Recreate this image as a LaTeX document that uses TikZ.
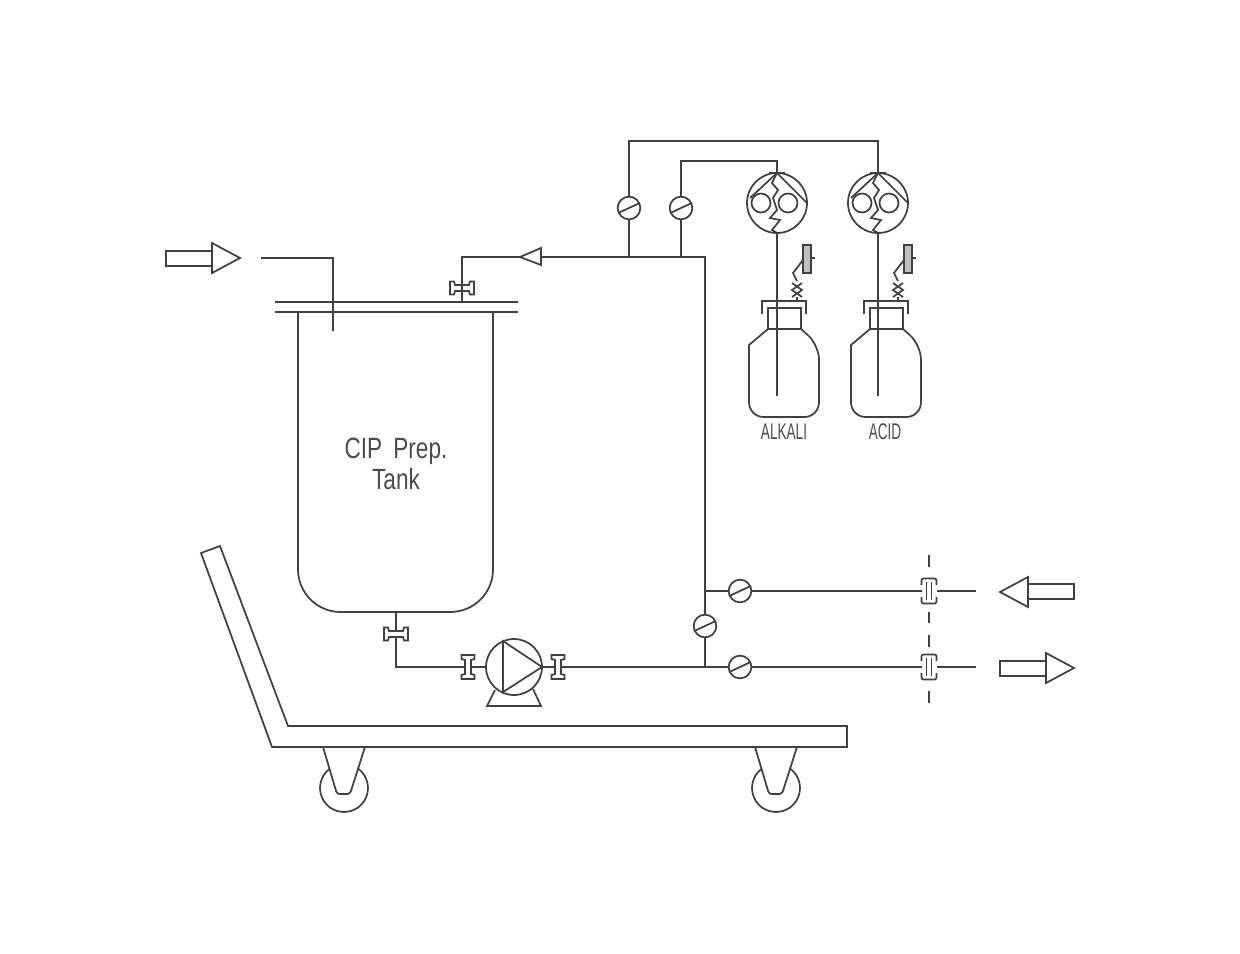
\documentclass[tikz,border=0pt]{standalone}
\usepackage{fontspec}
\newfontfamily\cadfont[FakeStretch=0.77]{Liberation Sans}
\newfontfamily\cadsmall[FakeStretch=0.6]{Liberation Sans}
\tikzset{
  valve/.style={shape=circle,draw,fill=white,inner sep=0pt,minimum size=17pt,
    path picture={\draw (path picture bounding box.205) -- (path picture bounding box.25);}},
  head/.style={shape=circle,draw,inner sep=0pt,minimum size=45pt},
  pumpbody/.style={shape=circle,draw,inner sep=0pt,minimum size=42pt},
  clamp/.pic={\draw[fill=white] (-6.5,-12) -- (6.5,-12) -- (6.5,-8) -- (3,-7) -- (3,7) -- (6.5,8) -- (6.5,12)
    -- (-6.5,12) -- (-6.5,8) -- (-3,7) -- (-3,-7) -- (-6.5,-8) -- cycle;},
  union/.pic={\fill[white] (-7.5,-12.5) rectangle (7.5,12.5);
    \draw[rounded corners=1.5pt] (-7.5,-6) -- (-7.5,-12.5) -- (7.5,-12.5) -- (7.5,-6);
    \draw[rounded corners=1.5pt] (-7.5,6) -- (-7.5,12.5) -- (7.5,12.5) -- (7.5,6);
    \draw (-2.5,-9) -- (-2.5,9);
    \draw (2.5,-9) -- (2.5,9);},
  bigarrow/.pic={\draw (-37,-7) rectangle (9,8);
    \draw[fill=white] (9,-15) -- (37,0) -- (9,15) -- cycle;}
}
\begin{document}
\begin{tikzpicture}[x=0.75pt,y=-0.75pt,color=black!75,line width=1.3pt]
\useasboundingbox (0,0) rectangle (1240,954);
% tank
\draw (275,302) -- (518,302);
\draw (275,312) -- (518,312);
\draw[rounded corners=32pt] (298,312) -- (298,612) -- (493,612) -- (493,312);
\node(tanklabel) [align=center,text=black!70,inner sep=0pt,font=\cadfont\fontsize{22}{23.5}\selectfont] at (396,464) {CIP\, Prep.\\Tank};
\coordinate(inletstart) at (261,258);
\coordinate(inletbend) at (333,258);
\coordinate(inletend) at (333,331);
\draw (inletstart) -- (inletbend) -- (inletend);
\pic at (203,258) {bigarrow};
% junctions on the pipework
\coordinate(returnend) at (462,302);
\coordinate(returnbend) at (462,257);
\coordinate(topleft) at (629,257);
\coordinate(topright) at (681,257);
\coordinate(corner) at (705,257);
\coordinate(upperjoin) at (705,591);
\coordinate(lowerjoin) at (705,667);
\coordinate(upperend) at (976,591);
\coordinate(lowerend) at (976,667);
\coordinate(tankout) at (396,612);
\coordinate(suctionbend) at (396,667);
\node(valvetopleft) [valve] at (629,208) {};
\node(valvetopright) [valve] at (681,208) {};
\node(valvemiddle) [valve] at (705,626) {};
\node(valveupper) [valve] at (740,591) {};
\node(valvelower) [valve] at (740,667) {};
\node(pump) [pumpbody] at (514,667) {};
\coordinate(clampin) at (468,667);
\coordinate(clampout) at (558,667);
% heads and bottles
\foreach \n/\h/\b/\t/\lx in {alkali/777/784/ALKALI/784,acid/878/886/ACID/885}{
  \node(\n head) [head] at (\h,203) {};
  \coordinate(\n dip) at (\h,396);
  \draw (\n head) -- (\n dip);
  \begin{scope}[shift={(\h,203)}]
    \draw (-16,0) circle [radius=9.5];
    \draw (11,0) circle [radius=9.5];
    \draw (0,-30) -- (-27,-5);
    \draw (0,-30) -- (30,0);
    \draw (0,-30) -- (-5,-20) -- (1,-13) -- (-4,-5) -- (0,7) -- (-7,15) -- (3,17) -- (-5,27) -- (0,30);
    \draw (-8,-30) -- (8,-30);
    \draw[fill=black!25] (26,42) rectangle (34,70);
    \draw (34,55) -- (38,55);
    \draw (26,57) -- (16,70) -- (20,78);
    \draw (15,80) -- (25,87) -- (15,94);
    \draw (25,80) -- (15,87) -- (25,94);
    \draw (20,94) -- (20,98);
  \end{scope}
  \begin{scope}[shift={(\b,0)}]
    \draw (-22,314) -- (-22,301) -- (22,301) -- (22,314);
    \draw (-16,329) -- (-16,308) -- (17,308) -- (17,329);
    \draw (-16,329) -- (17,329);
    \draw (-16,329) -- (-35,345) [rounded corners=11pt] -- (-35,417) -- (35,417) -- (35,345) [sharp corners] -- (17,329);
  \end{scope}
  \node(\n label) [text=black!70,inner sep=0pt,font=\cadsmall\fontsize{17}{18}\selectfont] at (\lx,432) {\t};
}
\coordinate(alkalibend) at (777,161);
\coordinate(acidbend) at (878,141);
\coordinate(acidfeed) at (629,141);
\coordinate(alkalifeed) at (681,161);
% pipes
\draw (returnend) -- (returnbend) -- (corner) -- (upperjoin) -- (valvemiddle) -- (lowerjoin);
\draw (topleft) -- (valvetopleft) -- (acidfeed) -- (acidbend) -- (acidhead.north);
\draw (topright) -- (valvetopright) -- (alkalifeed) -- (alkalibend) -- (alkalihead.north);
\draw (upperjoin) -- (valveupper) -- (upperend);
\draw (lowerjoin) -- (valvelower) -- (lowerend);
\draw (tankout) -- (suctionbend) -- (pump);
\draw (pump) -- (lowerjoin);
% pump
\draw (503,641) -- (503,692) -- (542,667) -- cycle;
\draw (495,690) -- (487,706) -- (541,706) -- (533,689);
% fittings
\draw[fill=white] (520,257) -- (541,248) -- (541,265) -- cycle;
\pic[rotate=90] at (462,288) {clamp};
\pic[rotate=90] at (396,634) {clamp};
\draw (462,282) -- (462,295);
\pic at (clampin) {clamp};
\pic at (clampout) {clamp};
% cut line
\foreach \a/\b in {555/567,612/623,635/647,691/703}{
  \draw (929,\a) -- (929,\b);
}
\pic at (929,591) {union};
\pic at (929,667) {union};
\pic[rotate=180] at (1037,592) {bigarrow};
\pic at (1037,668) {bigarrow};
% trolley
\draw (201,553) -- (220,546) -- (288,726) -- (847,726) -- (847,747) -- (272,747) -- cycle;
\foreach \w in {344,776}{
  \draw (\w,788) circle [radius=24];
  \draw[fill=white,rounded corners=2pt] (\w-21,747) -- (\w-7,794) -- (\w+6,794) -- (\w+21,747);
  \draw (\w-21,747) -- (\w+21,747);
}
\end{tikzpicture}
\end{document}
